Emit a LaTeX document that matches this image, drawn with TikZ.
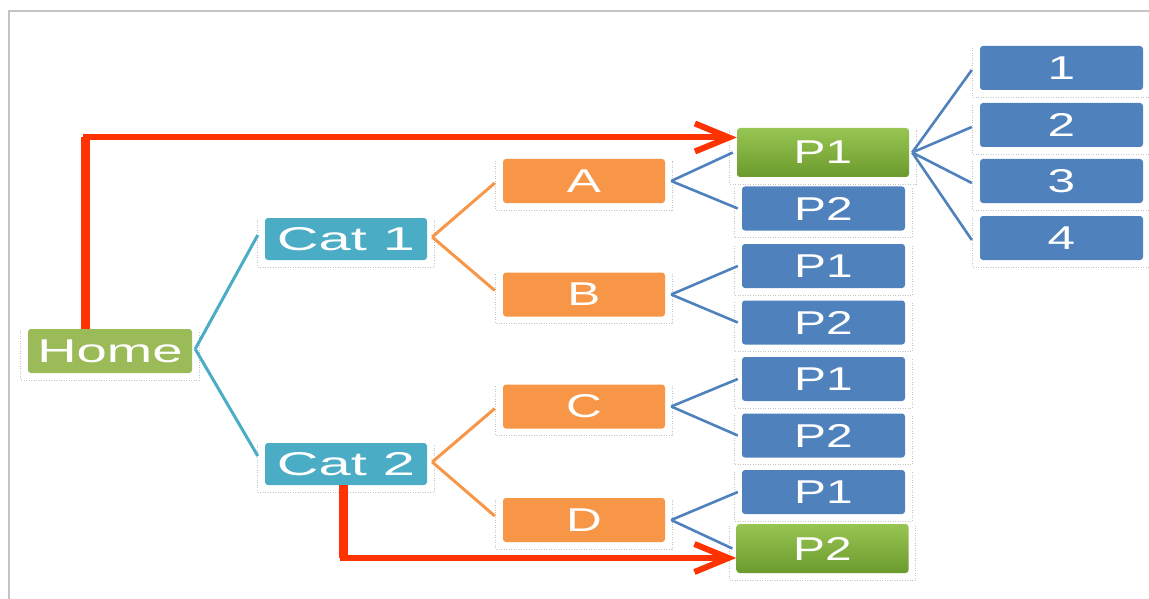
\documentclass[tikz,border=0pt]{standalone}
\usepackage{fontspec}
\setmainfont{Liberation Sans}
\usetikzlibrary{arrows.meta,calc}

\definecolor{homegreen}{HTML}{9BBB59}
\definecolor{catteal}{HTML}{4BACC6}
\definecolor{suborange}{HTML}{F79646}
\definecolor{pageblue}{HTML}{4F81BD}
\definecolor{hitgreenA}{HTML}{98C653}
\definecolor{hitgreenB}{HTML}{6B9A2D}
\definecolor{jumpred}{HTML}{FF3300}
\definecolor{framegray}{HTML}{C4C4C4}
\definecolor{markgray}{HTML}{C4C4C4}

% horizontally widened label text
\newcommand{\wide}[2]{\scalebox{#1}[1]{#2}}
% faint dotted guide round the lower part of a box
\newcommand{\guide}[1]{\draw[guideline] ([shift={(-7,2)}]#1.north west) -- ([shift={(-7,7)}]#1.south west) -- ([shift={(7,7)}]#1.south east) -- ([shift={(7,2)}]#1.north east);}

\tikzset{
  box/.style={rectangle, rounded corners=3pt, inner sep=0pt, text=white,
    font=\fontsize{33}{36}\selectfont},
  homebox/.style={box, fill=homegreen, minimum width=164pt, minimum height=44pt},
  catbox/.style={box, fill=catteal, minimum width=162pt, minimum height=42pt},
  subbox/.style={box, fill=suborange, minimum width=162pt, minimum height=44pt},
  pagebox/.style={box, fill=pageblue, minimum width=163pt, minimum height=44pt},
  hitbox/.style={box, top color=hitgreenA, bottom color=hitgreenB,
    minimum width=172pt, minimum height=49pt},
  guideline/.style={draw=markgray, line width=0.8pt, dash pattern=on 1pt off 1.5pt},
  tealline/.style={draw=catteal, line width=3pt},
  orangeline/.style={draw=suborange, line width=3pt},
  blueline/.style={draw=pageblue, line width=2.6pt},
  jump/.style={draw=jumpred, line width=6pt,
    -{Straight Barb[length=34pt,width=28pt,line width=6pt]}},
  jumpstem/.style={draw=jumpred, line width=9pt},
}

\begin{document}
\begin{tikzpicture}[x=1pt, y=-1pt]
\useasboundingbox (0,0) rectangle (1149,599);

% page frame
\draw[framegray, line width=2pt] (9,599) -- (9,11) -- (1149,11);

% level 0 and 1
\node[homebox] (home) at (110,351) {\wide{1.65}{Home}};
\node[catbox] (cat1) at (346,239) {\wide{1.75}{Cat 1}};
\node[catbox] (cat2) at (346,464) {\wide{1.75}{Cat 2}};

% level 2
\node[subbox] (a) at (584,181) {\wide{1.55}{A}};
\node[subbox] (b) at (584,294.5) {\wide{1.5}{B}};
\node[subbox] (c) at (584,406.5) {\wide{1.5}{C}};
\node[subbox] (d) at (584,520) {\wide{1.5}{D}};

% level 3 pages
\node[hitbox] (ap1) at (823,152.5) {\wide{1.45}{P1}};
\node[pagebox] (ap2) at (823.5,208.5) {\wide{1.45}{P2}};
\node[pagebox] (bp1) at (823.5,266) {\wide{1.45}{P1}};
\node[pagebox] (bp2) at (823.5,322.5) {\wide{1.45}{P2}};
\node[pagebox] (cp1) at (823.5,379) {\wide{1.45}{P1}};
\node[pagebox] (cp2) at (823.5,435.5) {\wide{1.45}{P2}};
\node[pagebox] (dp1) at (823.5,492) {\wide{1.45}{P1}};
\node[hitbox] (dp2) at (822.5,548.5) {\wide{1.45}{P2}};

% level 4
\node[pagebox] (n1) at (1061.5,68) {\wide{1.5}{1}};
\node[pagebox] (n2) at (1061.5,125) {\wide{1.5}{2}};
\node[pagebox] (n3) at (1061.5,181) {\wide{1.5}{3}};
\node[pagebox] (n4) at (1061.5,238) {\wide{1.5}{4}};

% dotted guides
\foreach \n in {home,cat1,cat2,a,b,c,d,ap1,ap2,bp1,bp2,cp1,cp2,dp1,dp2,n1,n2,n3,n4}{\guide{\n}}

% tree connectors
\draw[tealline] ([shift={(3,-2)}]home.east) -- ([shift={(-7,-4)}]cat1.west);
\draw[tealline] ([shift={(3,-2)}]home.east) -- ([shift={(-7,-8)}]cat2.west);
\draw[orangeline] ([shift={(5,-2)}]cat1.east) -- ([shift={(-8,2)}]a.west);
\draw[orangeline] ([shift={(5,-2)}]cat1.east) -- ([shift={(-8,-4)}]b.west);
\draw[orangeline] ([shift={(5,-2)}]cat2.east) -- ([shift={(-8,2)}]c.west);
\draw[orangeline] ([shift={(5,-2)}]cat2.east) -- ([shift={(-8,-4)}]d.west);
\foreach \s/\u/\v in {a/ap1/ap2,b/bp1/bp2,c/cp1/cp2,d/dp1/dp2}{
  \draw[blueline] ([shift={(6,0)}]\s.east) -- ([shift={(-4,0)}]\u.west);
  \draw[blueline] ([shift={(6,0)}]\s.east) -- ([shift={(-4,0)}]\v.west);
}
\foreach \k in {n1,n2,n3,n4}{
  \draw[blueline] ([shift={(3,0)}]ap1.east) -- ([shift={(-8,2)}]\k.west);
}

% direct jumps
\path ([shift={(58,0)}]home.north west) coordinate (homeup)
      ([shift={(0,-15)}]ap1.west) coordinate (ap1in)
      ([shift={(-3,0)}]cat2.south) coordinate (cat2down)
      ([shift={(0,9.5)}]dp2.west) coordinate (dp2in);
\draw[jumpstem] (homeup) -- (homeup |- ap1in);
\draw[jump] (homeup) |- (ap1in);
\draw[jumpstem] (cat2down) -- (cat2down |- dp2in);
\draw[jump] (cat2down) |- (dp2in);
\end{tikzpicture}
\end{document}
